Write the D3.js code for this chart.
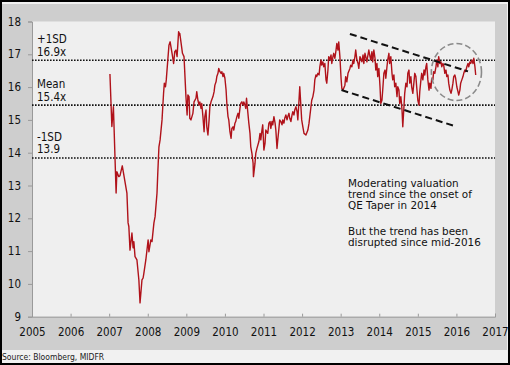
<!DOCTYPE html>
<html><head><meta charset="utf-8">
<script src="https://cdn.jsdelivr.net/npm/d3@7"></script>
<style>
html,body{margin:0;padding:0;background:#f1f1f1;}
svg{display:block;}
text{font-family:"DejaVu Sans Condensed","Liberation Sans",sans-serif;}
</style></head>
<body><svg id="c" width="510" height="365"></svg>
<script>
// ---- data (decimal years, P/E values) ----
const years = [2007.02,2007.07,2007.11,2007.18,2007.20,2007.25,2007.28,2007.34,2007.46,2007.49,2007.51,2007.54,2007.59,2007.62,2007.64,2007.67,2007.72,2007.77,2007.80,2007.85,2007.88,2007.90,2007.95,2008.01,2008.03,2008.08,2008.11,2008.16,2008.19,2008.24,2008.26,2008.29,2008.32,2008.37,2008.41,2008.43,2008.46,2008.48,2008.52,
2008.55,2008.58,2008.63,2008.67,2008.70,2008.73,2008.76,2008.80,2008.82,2008.83,2008.86,2008.90,2008.94,2008.99,2009.02,2009.04,2009.07,2009.09,2009.12,2009.17,2009.20,2009.25,2009.27,2009.30,2009.33,2009.35,2009.38,2009.40,2009.43,2009.46,2009.48,2009.51,2009.53,2009.56,2009.59,2009.61,2009.64,2009.69,2009.72,2009.74,2009.77,2009.79,2009.82,2009.84,2009.87,2009.90,2009.92,2009.95,2009.97,
2010.00,2010.03,2010.05,2010.08,2010.10,2010.13,2010.16,2010.18,2010.21,2010.23,2010.26,2010.28,2010.31,2010.34,2010.36,2010.39,2010.41,2010.44,2010.47,2010.49,2010.52,2010.54,2010.56,2010.58,2010.62,2010.65,2010.67,2010.70,2010.73,2010.74,2010.78,2010.80,2010.83,2010.88,2010.91,2010.93,2010.96,2010.98,
2011.01,2011.04,2011.06,2011.11,2011.14,2011.17,2011.19,2011.22,2011.24,2011.27,2011.30,2011.32,2011.35,2011.37,2011.40,2011.42,2011.45,2011.48,2011.50,2011.53,2011.55,2011.58,2011.61,2011.63,2011.66,2011.68,2011.71,2011.74,2011.76,2011.79,2011.81,2011.84,2011.87,2011.89,2011.92,2011.94,2011.97,2011.99,
2012.02,2012.05,2012.10,2012.15,2012.18,2012.20,2012.23,2012.25,2012.28,2012.31,2012.33,2012.36,2012.38,2012.41,2012.44,2012.46,2012.49,2012.51,2012.54,2012.56,2012.59,2012.62,2012.64,2012.67,2012.69,2012.72,2012.75,2012.77,2012.80,2012.82,2012.85,2012.88,2012.90,2012.93,2012.95,2012.98,
2013.01,2013.03,2013.06,2013.11,2013.13,2013.16,2013.19,2013.24,2013.26,2013.29,2013.32,2013.34,2013.37,2013.39,2013.42,2013.45,2013.47,2013.50,2013.55,2013.58,2013.60,2013.63,2013.65,2013.68,2013.70,2013.73,2013.76,2013.78,2013.81,2013.83,2013.86,2013.89,2013.91,2013.94,2013.96,2013.99,
2014.02,2014.04,2014.07,2014.09,2014.12,2014.15,2014.17,2014.20,2014.22,2014.25,2014.27,2014.30,2014.33,2014.35,2014.38,2014.40,2014.43,2014.46,2014.48,2014.51,2014.53,2014.56,2014.59,2014.61,2014.64,2014.66,2014.69,2014.72,2014.74,2014.77,2014.79,2014.82,2014.84,2014.87,2014.90,2014.92,2014.95,2014.97,
2015.00,2015.03,2015.05,2015.08,2015.10,2015.13,2015.16,2015.18,2015.21,2015.23,2015.26,2015.29,2015.31,2015.34,2015.36,2015.39,2015.41,2015.44,2015.47,2015.49,2015.52,2015.54,2015.57,2015.60,2015.62,2015.65,2015.67,2015.70,2015.73,2015.75,2015.78,2015.80,2015.83,2015.86,2015.88,2015.91,2015.93,2015.96,2015.98,
2016.01,2016.04,2016.06,2016.09,2016.11,2016.14,2016.17,2016.19,2016.22,2016.24,2016.27,2016.30,2016.32,2016.35,2016.37,2016.40,2016.43,2016.45,2016.48,2016.50];
const values = [16.40,14.80,15.40,12.77,13.42,13.27,13.30,13.60,12.77,11.86,11.75,11.03,11.55,11.10,11.29,10.83,10.73,10.12,9.42,10.12,10.18,10.33,10.73,11.34,10.98,11.34,11.29,11.86,12.05,12.77,13.38,14.18,14.39,15.00,15.81,16.12,16.01,16.22,16.83,
17.28,17.38,17.03,16.72,17.08,17.13,16.93,17.69,17.59,17.64,17.38,17.03,16.93,15.71,15.15,15.76,15.71,15.05,15.00,15.20,15.55,15.66,15.86,15.60,15.45,15.55,15.35,15.50,15.10,14.64,15.10,15.30,14.79,14.54,15.00,15.40,15.55,15.71,15.86,16.06,16.16,16.32,16.42,16.57,16.47,16.42,16.47,16.32,16.42,
16.27,15.91,15.50,15.10,15.00,14.64,14.44,14.74,14.79,14.69,14.90,14.95,15.10,15.20,15.05,15.35,15.50,15.55,15.45,15.55,15.45,15.35,15.66,15.40,14.90,14.59,14.18,13.98,13.68,13.27,13.68,13.98,14.13,14.34,14.59,14.39,14.69,14.85,
14.08,14.29,14.69,14.59,14.90,14.95,14.74,14.95,14.85,15.10,14.90,14.69,14.13,14.39,14.74,15.00,14.95,14.85,15.00,14.90,15.05,15.15,15.00,15.10,15.20,15.05,14.95,15.15,15.25,15.15,15.30,15.40,15.25,15.00,15.60,16.01,15.40,15.00,
14.79,14.59,14.54,14.69,14.90,15.10,15.40,15.60,15.71,15.91,16.22,16.37,16.32,16.42,16.37,16.62,16.83,16.67,16.77,16.62,16.72,16.22,16.12,16.52,16.93,16.83,16.98,16.72,16.93,17.03,16.88,17.13,17.33,17.13,17.38,16.93,
16.27,15.96,15.91,16.06,16.32,16.16,16.42,16.57,16.67,16.62,16.83,16.72,16.93,17.13,16.83,16.72,16.57,16.93,16.77,16.98,16.72,17.03,16.93,16.77,16.93,17.13,16.93,16.83,17.08,16.77,17.13,16.88,16.52,16.72,16.32,16.57,
16.01,15.50,15.60,15.91,16.42,16.52,16.27,16.62,16.83,17.03,16.72,16.93,16.42,16.22,16.37,16.01,16.12,15.71,16.01,15.91,15.50,15.71,15.30,14.79,15.40,15.81,16.12,16.01,16.42,16.52,16.12,16.32,16.01,15.81,16.16,16.42,16.32,16.01,
15.60,15.45,15.86,16.22,16.42,16.22,16.52,16.37,16.62,16.72,16.22,15.91,16.12,15.96,16.27,16.22,16.47,16.42,16.62,16.83,16.62,16.93,16.72,16.77,16.62,16.72,16.67,16.42,16.52,16.32,16.37,16.12,15.91,15.81,15.91,16.12,16.32,16.37,16.27,
16.01,15.86,15.76,15.91,16.12,16.22,16.32,16.42,16.52,16.47,16.62,16.72,16.62,16.77,16.72,16.83,16.72,16.88,16.62,16.37];

const yTicks = [9,10,11,12,13,14,15,16,17,18];
const xTicks = [2005,2006,2007,2008,2009,2010,2011,2012,2013,2014,2015,2016,2017];
const bandLevels = [16.82, 15.45, 13.84];
const bandLabels = [["+1SD","16.9x"],["Mean","15.4x"],["-1SD","13.9"]];
const upperTrend = [[2013.24,17.62],[2016.30,16.48]];
const lowerTrend = [[2013.02,15.91],[2015.96,14.81]];
const circleCenter = [2016.0,16.46];
const circleRadius = [0.65,0.87]; // years, multiple
const noteLines = ["Moderating valuation","trend since the onset of","QE Taper in 2014","","But the trend has been","disrupted since mid-2016"];
const sourceText = "Source: Bloomberg, MIDFR";

// ---- drawing ----
const svg = d3.select("#c");
const W = 510, H = 365;
const L = 32, R = 495, T = 21.5, B = 316.7;

svg.append("rect").attr("x",0).attr("y",0).attr("width",W).attr("height",H).attr("fill","#f1f1f1");
svg.append("rect").attr("x",2).attr("y",4).attr("width",505).attr("height",346).attr("fill","#cecece");
svg.append("rect").attr("x",L).attr("y",T).attr("width",R-L).attr("height",B-T).attr("fill","#efefef");
svg.append("rect").attr("x",1).attr("y",1).attr("width",W-2).attr("height",H-2)
  .attr("fill","none").attr("stroke","#000").attr("stroke-width",2);

const x = d3.scaleLinear().domain([2005,2017]).range([L,R]);
const y = d3.scaleLinear().domain([9,18]).range([B,T]);

// axes
const ya = svg.append("g").attr("transform",`translate(${L},0)`)
  .call(d3.axisLeft(y).tickValues(yTicks).tickSize(4).tickPadding(7).tickFormat(d3.format("d")));
ya.select(".domain").attr("stroke","#9a9a9a");
ya.selectAll(".tick line").attr("stroke","#9a9a9a");
ya.selectAll(".tick text").attr("font-size",11.5).attr("fill","#111");

const xa = svg.append("g").attr("transform",`translate(0,${B})`)
  .call(d3.axisBottom(x).tickValues(xTicks).tickSize(-3).tickFormat(d3.format("d")));
xa.select(".domain").attr("stroke","#9a9a9a");
xa.selectAll(".tick line").attr("stroke","#9a9a9a");
xa.selectAll(".tick text").attr("y",11).attr("dy","0.71em").attr("font-size",11.5).attr("fill","#111");

// dotted reference lines
svg.selectAll(".band").data(bandLevels).join("line")
  .attr("x1",L).attr("x2",R).attr("y1",d=>y(d)).attr("y2",d=>y(d))
  .attr("stroke","#111").attr("stroke-width",1.6).attr("stroke-dasharray","1.6,1.4");

bandLabels.forEach((lab,i)=>{
  const yy = y(bandLevels[i]);
  svg.append("text").attr("x",37).attr("y",yy-17).attr("font-size",11.5).attr("fill","#111").text(lab[0]);
  svg.append("text").attr("x",37).attr("y",yy-4.5).attr("font-size",11.5).attr("fill","#111").text(lab[1]);
});

// series
const pts = years.map((d,i)=>[d,values[i]]);
svg.append("path").datum(pts)
  .attr("fill","none").attr("stroke","#b0121a").attr("stroke-width",1.4).attr("stroke-linejoin","round")
  .attr("d",d3.line().x(d=>x(d[0])).y(d=>y(d[1])));

// trend lines
[upperTrend,lowerTrend].forEach(t=>{
  svg.append("line").attr("x1",x(t[0][0])).attr("y1",y(t[0][1])).attr("x2",x(t[1][0])).attr("y2",y(t[1][1]))
    .attr("stroke","#111").attr("stroke-width",2).attr("stroke-dasharray","7,4");
});

// circle
svg.append("ellipse").attr("cx",x(circleCenter[0])).attr("cy",y(circleCenter[1]))
  .attr("rx",x(circleCenter[0]+circleRadius[0])-x(circleCenter[0]))
  .attr("ry",y(circleCenter[1])-y(circleCenter[1]+circleRadius[1]))
  .attr("fill","none").attr("stroke","#8a8a8a").attr("stroke-width",1.6).attr("stroke-dasharray","6,3");

// note
noteLines.forEach((s,i)=>{
  if(!s) return;
  svg.append("text").attr("x",348).attr("y",186.5 + i*11.3 + (i>3?3:0))
    .attr("font-size",10.4).attr("fill","#111")
    .style("font-family",'"DejaVu Sans","Liberation Sans",sans-serif').text(s);
});

svg.append("text").attr("x",2).attr("y",360).attr("font-size",8.5).attr("fill","#222").text(sourceText);
</script></body></html>
